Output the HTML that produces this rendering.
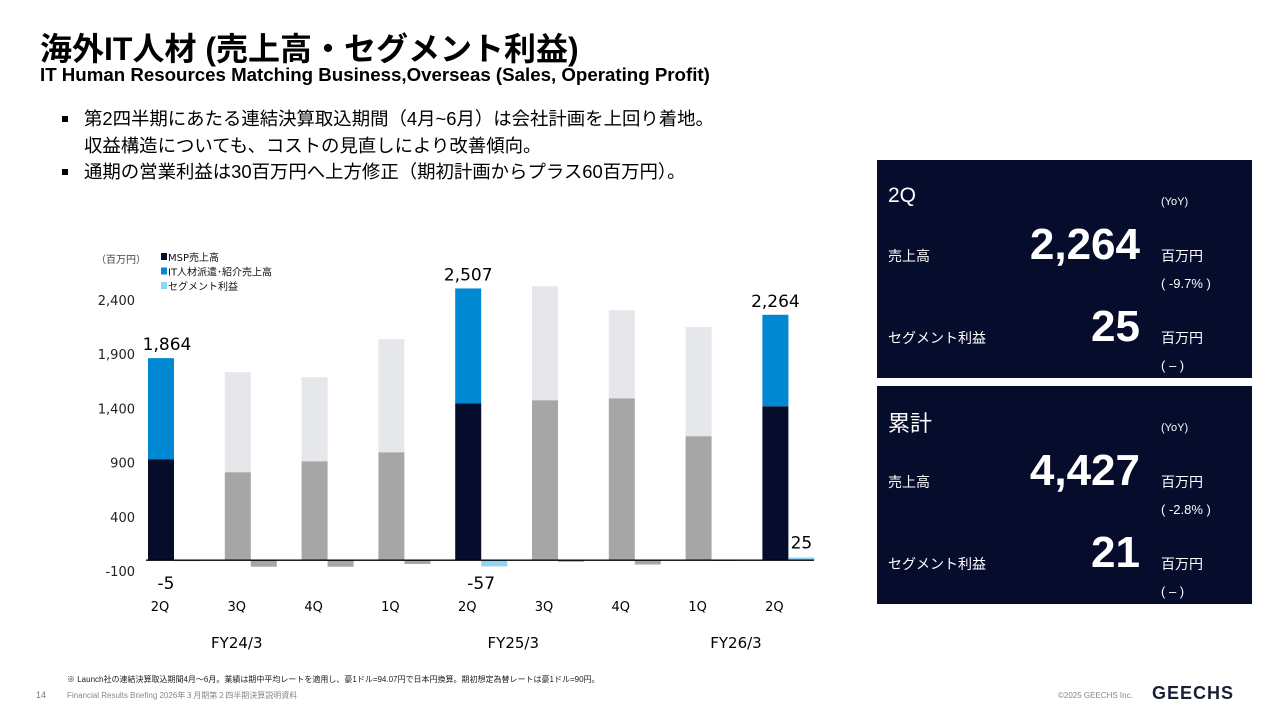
<!DOCTYPE html>
<html><head><meta charset="utf-8">
<style>
body{margin:0;width:1280px;height:720px;background:#fff;position:relative;overflow:hidden;font-family:"Liberation Sans","Noto Sans CJK JP",sans-serif;color:#000}
.a{position:absolute;white-space:nowrap}
.panel{position:absolute;left:877px;width:375px;background:#060c2c;color:#fff}
.panel .a{color:#fff}
.bl{position:relative;padding-left:22px}
.bl .sq{position:absolute;left:0;top:10px;width:6px;height:6px;background:#000}
</style></head><body>
<div class="a" style="left:40px;top:24px;font-size:32px;font-weight:bold">海外IT人材 (売上高・セグメント利益)</div>
<div class="a" style="left:40px;top:64px;font-size:18.7px;font-weight:bold">IT Human Resources Matching Business,Overseas (Sales, Operating Profit)</div>
<div style="position:absolute;left:62px;top:106px;font-size:18.4px;line-height:26.5px;white-space:nowrap">
<div class="bl"><span class="sq"></span>第2四半期にあたる連結決算取込期間（4月~6月）は会社計画を上回り着地。</div>
<div class="bl">収益構造についても、コストの見直しにより改善傾向。</div>
<div class="bl"><span class="sq"></span>通期の営業利益は30百万円へ上方修正（期初計画からプラス60百万円）。</div>
</div>

<svg id="chart" width="870" height="660" style="position:absolute;left:0;top:0"></svg>

<div class="panel" style="top:160px;height:218px">
<div class="a" style="left:11px;top:24px;font-size:21px">2Q</div>
<div class="a" style="left:284px;top:36px;font-size:11px">(YoY)</div>
<div class="a" style="left:11px;top:86px;font-size:14px">売上高</div>
<div class="a" style="right:112px;top:60px;font-size:44px;font-weight:bold">2,264</div>
<div class="a" style="left:284px;top:86px;font-size:14px">百万円</div>
<div class="a" style="left:284px;top:116px;font-size:13px">( -9.7% )</div>
<div class="a" style="left:11px;top:168px;font-size:14px">セグメント利益</div>
<div class="a" style="right:112px;top:142px;font-size:44px;font-weight:bold">25</div>
<div class="a" style="left:284px;top:168px;font-size:14px">百万円</div>
<div class="a" style="left:284px;top:198px;font-size:13px">( – )</div>
</div>

<div class="panel" style="top:386px;height:218px">
<div class="a" style="left:11px;top:20px;font-size:22px">累計</div>
<div class="a" style="left:284px;top:36px;font-size:11px">(YoY)</div>
<div class="a" style="left:11px;top:86px;font-size:14px">売上高</div>
<div class="a" style="right:112px;top:60px;font-size:44px;font-weight:bold">4,427</div>
<div class="a" style="left:284px;top:86px;font-size:14px">百万円</div>
<div class="a" style="left:284px;top:116px;font-size:13px">( -2.8% )</div>
<div class="a" style="left:11px;top:168px;font-size:14px">セグメント利益</div>
<div class="a" style="right:112px;top:142px;font-size:44px;font-weight:bold">21</div>
<div class="a" style="left:284px;top:168px;font-size:14px">百万円</div>
<div class="a" style="left:284px;top:198px;font-size:13px">( – )</div>
</div>

<div class="a" style="left:67px;top:674px;font-size:8px;color:#222">※ Launch社の連結決算取込期間4月～6月。業績は期中平均レートを適用し、豪1ドル=94.07円で日本円換算。期初想定為替レートは豪1ドル=90円。</div>
<div class="a" style="left:36px;top:690px;font-size:9px;color:#777">14</div>
<div class="a" style="left:67px;top:690px;font-size:8px;color:#888">Financial Results Briefing 2026年３月期第２四半期決算説明資料</div>
<div class="a" style="left:1058px;top:691px;font-size:8px;color:#888">©2025 GEECHS Inc.</div>
<div class="a" style="left:1152px;top:683px;font-size:18px;font-weight:bold;color:#1a1f36;letter-spacing:1px">GEECHS</div>

<script>
const quarters=["2Q","3Q","4Q","1Q","2Q","3Q","4Q","1Q","2Q"];
const mspSales=[932,812,913,996,1448,1476,1494,1144,1420];
const totalSales=[1864,1734,1688,2039,2507,2528,2306,2150,2264];
const segProfit=[-5,-60,-60,-35,-57,-15,-40,3,25];
const highlight=[true,false,false,false,true,false,false,false,true];
const totalLabels=["1,864","","","","2,507","","","","2,264"];
const profitLabels=["-5","","","","-57","","","","25"];
const yTicks=[-100,400,900,1400,1900,2400];
const fiscalYears=["FY24/3","FY25/3","FY26/3"];
const fiscalIdx=[1.0,4.6,7.5];

const svg=document.getElementById('chart');
const NS='http://www.w3.org/2000/svg';
const y0=560.2, k=0.1084;
const y=v=>y0-v*k;
const x=i=>148+i*76.8;
const bw=26;
function mk(t,a){const e=document.createElementNS(NS,t);for(const n in a)e.setAttribute(n,a[n]);svg.appendChild(e);return e;}
function txt(s,xx,yy,size,anchor,fill){const e=mk('text',{x:xx,y:yy,'font-size':size,'text-anchor':anchor||'middle',fill:fill||'#000','font-family':'"DejaVu Sans","Noto Sans CJK JP",sans-serif'});e.textContent=s;return e;}

yTicks.forEach(v=>{const t=txt(v.toLocaleString('en-US'),135,y(v)+5,13,'end','#222');

});
const u=txt('（百万円）',96,263,10,'start','#444');



quarters.forEach((q,i)=>{
  const hi=highlight[i];
  const r1=mk('rect',{x:x(i),y:y(mspSales[i]),width:bw,height:y(0)-y(mspSales[i]),fill:hi?'#060c2c':'#a6a6a6'});
  
  
  const r2=mk('rect',{x:x(i),y:y(totalSales[i]),width:bw,height:y(mspSales[i])-y(totalSales[i]),fill:hi?'#0088d2':'#e6e7eb'});
  
  
  const p=segProfit[i];
  const r3=mk('rect',{x:x(i)+bw,y:Math.min(y(p),y(0)),width:bw,height:Math.max(Math.abs(y(p)-y(0)),1),fill:hi?'#8fd3f5':'#a6a6a6'});
  
  
  if(totalLabels[i]){const t=txt(totalLabels[i],x(i)+bw/2+(i==0?6:0),y(totalSales[i])-8,17);
    
    }
  if(profitLabels[i]){const t=p<0?txt(profitLabels[i],x(i)+bw+(i==0?-8:0),y(0)+29,17):txt(profitLabels[i],x(i)+bw+13,y(p)-9,17);
    
    }
  const ql=txt(q,x(i)+12,611,13);
  
  
});
const ax=mk('line',{x1:146,x2:814,y1:y(0),y2:y(0),stroke:'#000','stroke-width':1.3});


fiscalYears.forEach((f,j)=>{const t=txt(f,x(fiscalIdx[j])+12,648,15);
  
  });

const legend=[['MSP売上高','#060c2c'],['IT人材派遣･紹介売上高','#0088d2'],['セグメント利益','#8fd3f5']];
legend.forEach((l,j)=>{
  const r=mk('rect',{x:161,y:253+j*14.5,width:6,height:7,fill:l[1]});
  
  
  const t=txt(l[0],168,261+j*14.5,10,'start','#111');
  
  
});
</script>
</body></html>
